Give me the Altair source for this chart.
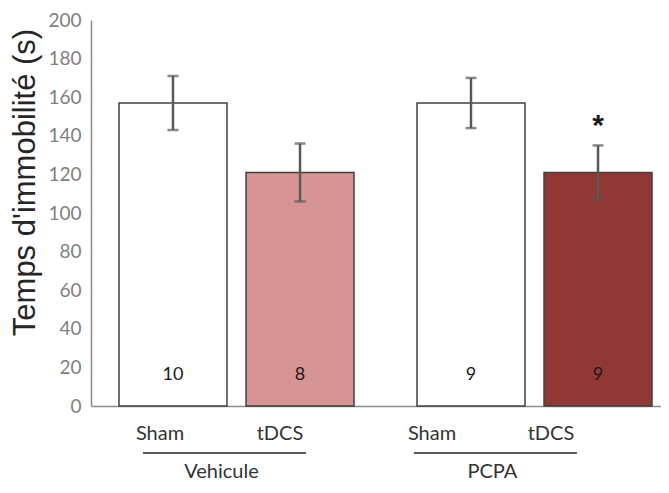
import altair as alt
import pandas as pd

# ---- data ----
groups = ["Vehicule", "Vehicule", "PCPA", "PCPA"]
conditions = ["Sham", "tDCS", "Sham", "tDCS"]
means = [157, 121, 157, 121]
errors = [14, 15, 13, 14]
n_labels = ["10", "8", "9", "9"]
stars = ["", "", "", "*"]
fill_colors = ["#ffffff", "#d69494", "#ffffff", "#913734"]
group_names = ["Vehicule", "PCPA"]
condition_names = ["Sham", "tDCS"]
y_ticks = [0, 20, 40, 60, 80, 100, 120, 140, 160, 180, 200]
y_title = "Temps d'immobilité (s)"

df = pd.DataFrame({
    "group": groups,
    "condition": conditions,
    "mean": means,
    "err": errors,
    "n": n_labels,
    "star": stars,
})
df["key"] = df["group"] + " " + df["condition"]
df["lo"] = df["mean"] - df["err"]
df["hi"] = df["mean"] + df["err"]
keys = list(df["key"])

gdf = pd.DataFrame({"group": group_names})

W, H = 570, 386
AXIS_GREY = "#8c8c8c"
ERR_GREY = "#595959"
TEXT_DARK = "#333333"

# ---- bar layer scales ----
x_bar = alt.X(
    "group:N",
    scale=alt.Scale(domain=group_names, paddingInner=0.2114, paddingOuter=0.0621, align=0.757),
    axis=alt.Axis(title=None, labels=False, ticks=False, domain=True,
                  domainColor=AXIS_GREY, domainWidth=1.5),
)
xo_bar = alt.XOffset(
    "condition:N",
    scale=alt.Scale(domain=condition_names, paddingInner=0.15, paddingOuter=0),
)
y_axis = alt.Axis(
    values=y_ticks, title=y_title, grid=False, ticks=False, tickSize=0,
    labelPadding=10, labelFont="Lato", labelFontSize=19, labelColor="#7f7f7f",
    domainColor=AXIS_GREY, domainWidth=1.5,
    titleFont="Liberation Sans", titleFontSize=31, titleFontWeight="normal",
    titleColor="#262626", titleX=-66, titleY=162, titleBaseline="middle",
    titleAngle=270,
)
y_scale = alt.Scale(domain=[0, 200], nice=False)

base = alt.Chart(df)

bars = base.mark_bar(stroke="#404040", strokeWidth=1.5).encode(
    x=x_bar,
    xOffset=xo_bar,
    y=alt.Y("mean:Q", scale=y_scale, axis=y_axis),
    color=alt.Color("key:N", scale=alt.Scale(domain=keys, range=fill_colors), legend=None),
)

err_rule = base.mark_rule(color=ERR_GREY, strokeWidth=2.5).encode(
    x=x_bar, xOffset=xo_bar,
    y=alt.Y("lo:Q", scale=y_scale, axis=y_axis),
    y2="hi:Q",
)
cap_lo = base.mark_tick(color=ERR_GREY, thickness=2.5, size=11).encode(
    x=x_bar, xOffset=xo_bar, y=alt.Y("lo:Q", scale=y_scale, axis=y_axis),
)
cap_hi = base.mark_tick(color=ERR_GREY, thickness=2.5, size=11).encode(
    x=x_bar, xOffset=xo_bar, y=alt.Y("hi:Q", scale=y_scale, axis=y_axis),
)
n_text = base.mark_text(font="Lato", fontSize=18, color="#1a1a1a", baseline="middle").encode(
    x=x_bar, xOffset=xo_bar, y=alt.value(H - 31), text="n:N",
)
star_text = base.mark_text(font="Liberation Sans", fontSize=30, fontWeight="bold",
                           color="#1a1a1a", baseline="middle", dy=-19).encode(
    x=x_bar, xOffset=xo_bar, y=alt.Y("hi:Q", scale=y_scale, axis=y_axis), text="star:N",
)

bar_layer = alt.layer(bars, err_rule, cap_lo, cap_hi, n_text, star_text)

# ---- category labels, laid out (as in the original) on their own scales ----
def point_x(padding, align):
    return alt.X(
        "group:N",
        scale=alt.Scale(type="point", domain=group_names, padding=padding, align=align),
        axis=None,
    )

sham_labels = alt.Chart(df).transform_filter(
    alt.datum.condition == "Sham"
).mark_text(font="Lato", fontSize=20, color=TEXT_DARK, baseline="middle").encode(
    x=point_x(0.5478, 0.2315), y=alt.value(H + 28), text="condition:N",
)
tdcs_labels = alt.Chart(df).transform_filter(
    alt.datum.condition == "tDCS"
).mark_text(font="Lato", fontSize=20, color=TEXT_DARK, baseline="middle").encode(
    x=point_x(0.5517, 0.632), y=alt.value(H + 28), text="condition:N",
)

x_grp = alt.X(
    "group:N",
    scale=alt.Scale(domain=group_names, paddingInner=0.3985, paddingOuter=0.251, align=0.382),
    axis=None,
)
underline = alt.Chart(gdf).mark_bar(color=ERR_GREY).encode(
    x=x_grp, y=alt.value(H + 46), y2=alt.value(H + 48),
)
group_labels = alt.Chart(gdf).mark_text(font="Lato", fontSize=20, color=TEXT_DARK,
                                         baseline="middle", dx=-3).encode(
    x=x_grp, y=alt.value(H + 66), text="group:N",
)
group_layer = alt.layer(underline, group_labels)

chart = alt.layer(bar_layer, sham_labels, tdcs_labels, group_layer).resolve_scale(
    x="independent", xOffset="independent"
).properties(
    width=W, height=H,
    padding={"left": 0, "top": 3, "right": 0, "bottom": 0},
).configure_view(stroke=None)

chart.save("out.html", embed_options={"renderer": "svg", "actions": False})
